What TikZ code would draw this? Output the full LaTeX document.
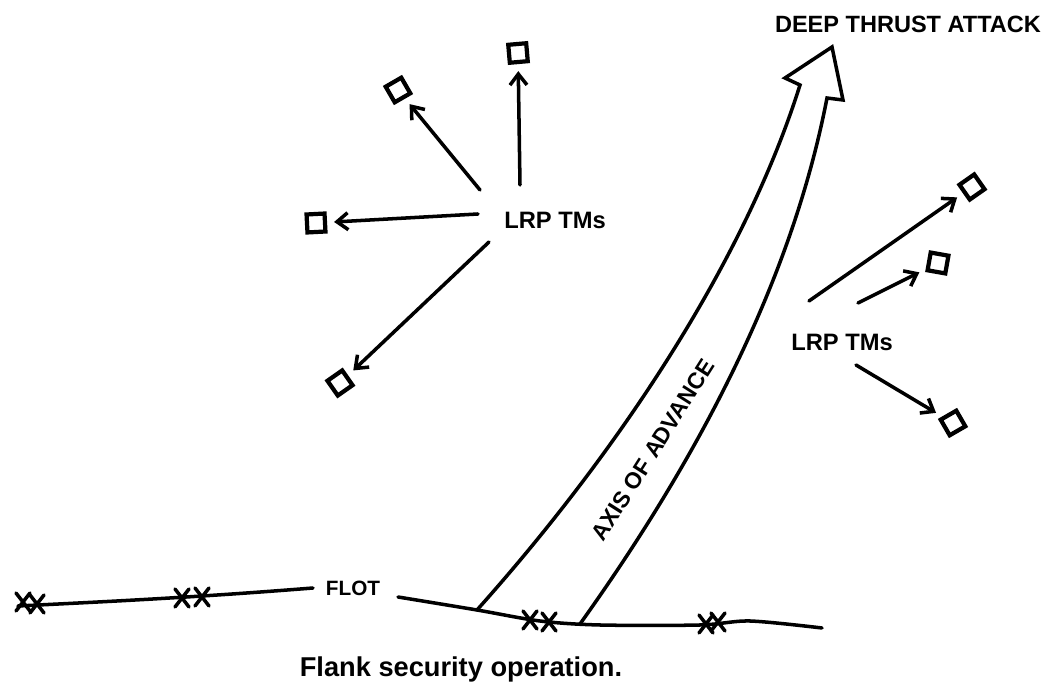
\documentclass[tikz,border=0pt]{standalone}
\usepackage{fontspec}
\setmainfont{Liberation Sans}
\usetikzlibrary{arrows.meta, positioning, calc}
\tikzstyle{teamsq} = [rectangle, draw, line width=2.4pt, minimum size=0.36cm, inner sep=0pt]
\tikzstyle{lbl} = [font=\bfseries\fontsize{13.5}{15}\selectfont, inner sep=1pt]
\tikzstyle{arrow} = [line width=2pt, line cap=round, -{Straight Barb[length=0.22cm, width=0.34cm, line width=2pt]}, shorten >=4pt]
\tikzstyle{flotline} = [line width=2pt, line cap=round]
\tikzset{xmark/.pic={\draw[line width=2pt, line cap=round] (-7,-9) -- (7,9) (-7,9) -- (7,-9);}}

\begin{document}
\begin{tikzpicture}[x=0.02cm, y=-0.02cm]
    \useasboundingbox (0,0) rectangle (1049,688);
    % labels
    \node (deep) [lbl, font=\bfseries\fontsize{13.4}{15}\selectfont] at (908,24) {DEEP THRUST ATTACK};
    \node (lrpL) [lbl] at (555,220) {LRP TMs};
    \node (lrpR) [lbl] at (842,342) {LRP TMs};
    \node (flot) [lbl, font=\bfseries\fontsize{11.8}{13}\selectfont] at (353,588) {FLOT};
    \node (axis) [lbl, font=\bfseries\fontsize{13}{15}\selectfont, rotate=57.6, inner sep=0pt] at (653,450) {AXIS OF ADVANCE};
    \node (caption) [lbl, font=\bfseries\fontsize{15.5}{18}\selectfont, anchor=base] at (461,677) {Flank security operation.};

    % teams, left group
    \node (sqUp) [teamsq, rotate=5] at (518,53) {};
    \node (sqUL) [teamsq, rotate=30] at (398,90) {};
    \node (sqL) [teamsq, rotate=3] at (316,223) {};
    \node (sqLL) [teamsq, rotate=35] at (340,383) {};
    % teams, right group
    \node (sqR1) [teamsq, rotate=35] at (972,187) {};
    \node (sqR2) [teamsq, rotate=-10] at (938,263) {};
    \node (sqR3) [teamsq, rotate=30] at (953,423) {};

    % arrow tails
    \coordinate (tUp) at (520,185);
    \coordinate (tUL) at (480,190);
    \coordinate (tL) at (478,214);
    \coordinate (tLL) at (489,242);
    \coordinate (tR1) at (809,301);
    \coordinate (tR2) at (858,303);
    \coordinate (tR3) at (856,365);

    \draw[arrow] (tUp) -- (sqUp);
    \draw[arrow] (tUL) -- (sqUL);
    \draw[arrow] (tL) -- (sqL);
    \draw[arrow] (tLL) -- (sqLL);
    \draw[arrow] (tR1) -- (sqR1);
    \draw[arrow] (tR2) -- (sqR2);
    \draw[arrow] (tR3) -- (sqR3);

    % axis of advance
    \draw[flotline, line join=miter] (477,610) .. controls (620,450) and (745,260) .. (800,85)
        -- (785,78) -- (832,47) -- (843,100) -- (827,98)
        .. controls (790,290) and (690,470) .. (580,624);

    % FLOT
    \draw[flotline] (18,606) .. controls (120,601) and (200,597) .. (313,588);
    \draw[flotline] plot[smooth, tension=0.5] coordinates {(398,597) (477,610) (540,621) (600,625) (700,625) (750,621) (822,628)};
    \pic at (23,602) {xmark};
    \pic at (37,604) {xmark};
    \pic at (182,598) {xmark};
    \pic at (202,597) {xmark};
    \pic at (530,620) {xmark};
    \pic at (549,622) {xmark};
    \pic at (706,624) {xmark};
    \pic at (718,622) {xmark};
\end{tikzpicture}
\end{document}
